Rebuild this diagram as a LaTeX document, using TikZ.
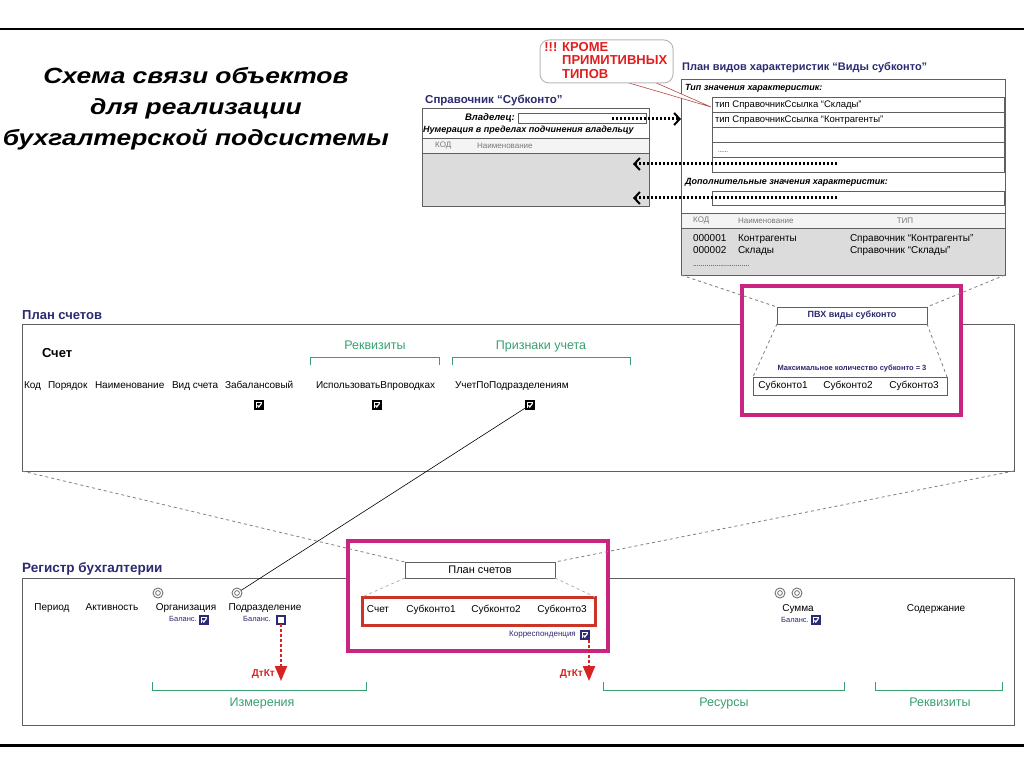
\documentclass[tikz,border=0pt]{standalone}
\usepackage{fontspec}
\setmainfont{Liberation Sans}
\usetikzlibrary{arrows.meta,calc}
\definecolor{navy}{RGB}{44,42,112}
\definecolor{grn}{RGB}{56,160,112}
\definecolor{mag}{RGB}{200,36,128}
\definecolor{rbx}{RGB}{204,52,40}
\definecolor{rar}{RGB}{214,36,36}
\definecolor{fillg}{RGB}{220,220,220}
\definecolor{hdrg}{RGB}{244,244,244}
\definecolor{frm}{RGB}{95,95,95}
\definecolor{tgray}{RGB}{120,120,120}
\definecolor{callred}{RGB}{225,30,30}
\newcommand{\myfs}[1]{\fontsize{#1}{#1}\selectfont}
\begin{document}
\begin{tikzpicture}[x=1pt,y=-1pt,
  frbox/.style={draw=frm,line width=0.8pt,inner sep=0pt,outer sep=0pt,anchor=north west},
  txt/.style={inner sep=0pt,outer sep=0pt,font=\myfs{10},text height=7.2pt,text depth=2pt},
  ttl/.style={inner sep=0pt,anchor=west,text=navy,font=\bfseries\myfs{13}},
  bi/.style={inner sep=0pt,font=\bfseries\itshape\myfs{9}},
  hdr/.style={inner sep=0pt,anchor=west,text=tgray,font=\myfs{8}},
  gdash/.style={draw=gray,line width=0.8pt,dash pattern=on 3pt off 3pt},
  dotarr/.style={line width=3pt,dash pattern=on 2pt off 2pt,-{Straight Barb[length=5.5pt,width=12pt,line width=2pt]}},
  gbr/.style={draw=grn,line width=1pt},
  glbl/.style={inner sep=0pt,text=grn,font=\myfs{12.5},text height=9pt,text depth=2.6pt},
  navsm/.style={inner sep=0pt,anchor=east,text=navy,font=\myfs{7.5}},
  chk/.style={fill=#1,minimum size=10pt,inner sep=0pt,outer sep=0pt,
    path picture={
      \draw[white,line width=0.5pt] ([shift={(-3.2,3.2)}]path picture bounding box.center) -- ([shift={(-3.2,-3.2)}]path picture bounding box.center) -- ([shift={(3.2,-3.2)}]path picture bounding box.center);
      \draw[white,line width=1.2pt] ([shift={(-1.6,0.4)}]path picture bounding box.center) -- ([shift={(-0.2,2)}]path picture bounding box.center) -- ([shift={(2.6,-1.8)}]path picture bounding box.center);}},
  unchk/.style={draw=navy,fill=white,line width=1.8pt,minimum size=8pt,inner sep=0pt,outer sep=0pt},
  dcirc/.style={circle,draw=gray!90!black,line width=0.9pt,minimum size=10pt,inner sep=0pt,outer sep=0pt,
    path picture={\draw[gray!90!black,line width=0.8pt] (path picture bounding box.center) circle (2.4pt);}},
  rarr/.style={draw=rar,line width=2.2pt,dash pattern=on 3pt off 2pt,-{Triangle[length=15pt,width=12pt]}},
  dtkt/.style={inner sep=0pt,anchor=east,text=rar,font=\bfseries\myfs{10}}
]
\useasboundingbox (0,0) rectangle (1024,767);
\fill[white] (0,0) rectangle (1024,767);

% rules
\coordinate (tl) at (0,29); \coordinate (tr) at (1024,29);
\draw[line width=1.5pt] (tl) -- (tr);
\coordinate (bl) at (0,745); \coordinate (br) at (1024,745);
\draw[line width=3pt] (bl) -- (br);

% title
\node[inner sep=0pt,align=center,font=\bfseries\itshape\fontsize{22}{31}\selectfont] (title) at (196,109)
  {\scalebox{1.2}[1]{Схема связи объектов}\\\scalebox{1.2}[1]{для реализации}\\\scalebox{1.2}[1]{бухгалтерской подсистемы}};

% ---------- Справочник "Субконто"
\node[ttl,font=\bfseries\myfs{11.5}] (spT) at (425,100) {Справочник “Субконто”};
\fill[hdrg] (422,138) rectangle (649,153);
\fill[fillg] (422,153) rectangle (649,206);
\node[frbox,minimum width=227pt,minimum height=98pt] (sprav) at (422,108) {};
\draw[frm,line width=0.8pt] (422,138) -- (649,138) (422,153) -- (649,153);
\node[bi,anchor=east,font=\bfseries\itshape\myfs{9.5}] (vlad) at (515,118) {Владелец:};
\node[frbox,minimum width=128pt,minimum height=10pt] (vladf) at (518,113) {};
\node[bi,anchor=west] (numer) at (423,130) {Нумерация в пределах подчинения владельцу};
\node[hdr] (spK) at (435,146) {КОД};
\node[hdr] (spN) at (477,146) {Наименование};

% ---------- План видов характеристик
\node[ttl,font=\bfseries\myfs{11}] (pvT) at (682,68) {План видов характеристик “Виды субконто”};
\fill[hdrg] (681,213) rectangle (1005,228);
\fill[fillg] (681,228) rectangle (1005,275);
\node[frbox,minimum width=324pt,minimum height=196pt] (pvh) at (681,79) {};
\draw[frm,line width=0.8pt] (681,213) -- (1005,213) (681,228) -- (1005,228);
\node[bi,anchor=west] (tipT) at (685,88) {Тип значения характеристик:};
\node[frbox,minimum width=292pt,minimum height=15pt] (r1) at (712,97) {};
\node[frbox,minimum width=292pt,minimum height=15pt] (r2) at (712,112) {};
\node[frbox,minimum width=292pt,minimum height=15pt] (r3) at (712,127) {};
\node[frbox,minimum width=292pt,minimum height=15pt] (r4) at (712,142) {};
\node[frbox,minimum width=292pt,minimum height=15pt] (r5) at (712,157) {};
\node[txt,anchor=west,font=\myfs{9.5}] (r1t) at ([xshift=3pt]r1.west) {тип СправочникСсылка “Склады”};
\node[txt,anchor=west,font=\myfs{9.5}] (r2t) at ([xshift=3pt]r2.west) {тип СправочникСсылка “Контрагенты”};
\node[txt,anchor=west,font=\myfs{6}] (r4t) at ([xshift=6pt]r4.west) {......};
\node[bi,anchor=west] (dopT) at (685,182) {Дополнительные значения характеристик:};
\node[frbox,minimum width=292pt,minimum height=14pt] (dopf) at (712,191) {};
\node[hdr] (pvK) at (693,221) {КОД};
\node[hdr] (pvN) at (738,221) {Наименование};
\node[hdr,anchor=center] (pvTip) at (905,221) {ТИП};
\node[txt,anchor=west] (e1a) at (693,239) {000001};
\node[txt,anchor=west] (e1b) at (738,239) {Контрагенты};
\node[txt,anchor=west] (e1c) at (850,239) {Справочник “Контрагенты”};
\node[txt,anchor=west] (e2a) at (693,251) {000002};
\node[txt,anchor=west] (e2b) at (738,251) {Склады};
\node[txt,anchor=west] (e2c) at (850,251) {Справочник “Склады”};
\node[txt,anchor=west,font=\myfs{7}] (e3) at (693,264) {.............................};

% dotted arrows
\coordinate (d1) at (612,119);
\draw[dotarr] (d1) -- (pvh.west |- d1);
\coordinate (d2) at (837,164);
\draw[dotarr] (d2) -- ([xshift=-16pt]sprav.east |- d2);
\coordinate (d3) at (837,198);
\draw[dotarr] (d3) -- ([xshift=-16pt]sprav.east |- d3);

% callout
\coordinate (ctip) at (711,107);
\filldraw[fill=white,draw=callred!55!gray,line width=0.6pt] (612,78) -- (ctip) -- (645,78) -- cycle;
\node[frbox,draw=gray!55,fill=white,rounded corners=9pt,minimum width=133pt,minimum height=43pt,line width=1pt] (bub) at (540,40) {};
\node[inner sep=0pt,anchor=north west,align=left,text=callred,font=\bfseries\fontsize{13}{13.5}\selectfont] (bubT) at (562,42) {\llap{!!! }КРОМЕ\\ПРИМИТИВНЫХ\\ТИПОВ};

% ---------- План счетов
\node[ttl] (planT) at (22,315) {План счетов};
\node[frbox,minimum width=992pt,minimum height=147pt] (plan) at (22,324) {};
\node[txt,anchor=west,font=\bfseries\myfs{13}] (schet) at (42,355) {Счет};
\node[txt,anchor=west] (kod) at (24,386) {Код};
\node[txt,anchor=west] (por) at (48,386) {Порядок};
\node[txt,anchor=west] (naim) at (95,386) {Наименование};
\node[txt,anchor=west] (vid) at (172,386) {Вид счета};
\node[txt,anchor=west] (zab) at (225,386) {Забалансовый};
\node[txt,anchor=west] (isp) at (316,386) {ИспользоватьВпроводках};
\node[txt,anchor=west] (uch) at (455,386) {УчетПоПодразделениям};
\node[chk=black] (iZab) at (259,405) {};
\node[chk=black] (iIsp) at (377,405) {};
\node[chk=black] (iUch) at (530,405) {};
\node[glbl] (rekT) at (375,346) {Реквизиты};
\draw[gbr] (310,365) -- (310,357) -- (439,357) -- (439,365);
\node[glbl] (prT) at (541,346) {Признаки учета};
\draw[gbr] (452,365) -- (452,357) -- (630,357) -- (630,365);

% magenta box with PVH
\node[frbox,draw=mag,line width=3.5pt,fill=white,minimum width=219pt,minimum height=129pt] (mag1) at (742,286) {};
\node[frbox,minimum width=150pt,minimum height=17pt,font=\bfseries\myfs{9},text=navy] (pvxk) at (777,307) {ПВХ виды субконто};
\draw[gdash] (pvh.south west) -- (pvxk.north west);
\draw[gdash] (pvh.south east) -- (pvxk.north east);
\node[inner sep=0pt,text=navy,font=\bfseries\myfs{7.5}] (maxk) at (852,369) {Максимальное количество субконто = 3};
\node[frbox,minimum width=194pt,minimum height=18pt] (subk) at (753,377) {};
\node[txt] (sk1) at (783,386) {Субконто1};
\node[txt] (sk2) at (848,386) {Субконто2};
\node[txt] (sk3) at (914,386) {Субконто3};
\draw[gdash] (pvxk.south west) -- (subk.north west);
\draw[gdash] (pvxk.south east) -- (subk.north east);

% ---------- Регистр бухгалтерии
\node[ttl,font=\bfseries\myfs{13.5}] (regT) at (22,569) {Регистр бухгалтерии};
\node[frbox,minimum width=992pt,minimum height=147pt] (reg) at (22,578) {};
\node[frbox,draw=mag,line width=3.5pt,fill=white,minimum width=260pt,minimum height=110pt] (mag2) at (348,541) {};
\node[frbox,minimum width=150pt,minimum height=16pt,font=\myfs{11}] (pls) at (405,562) {План счетов};
\node[frbox,draw=rbx,line width=3pt,minimum width=233pt,minimum height=28pt] (rbox) at (362,597) {};
\draw[gdash] (plan.south west) -- (pls.north west);
\draw[gdash] (plan.south east) -- (pls.north east);
\draw[gdash,draw=gray!60] (pls.south west) -- (rbox.north west);
\draw[gdash,draw=gray!60] (pls.south east) -- (rbox.north east);
\node[txt] (rs) at (378,610) {Счет};
\node[txt] (rs1) at (431,610) {Субконто1};
\node[txt] (rs2) at (496,610) {Субконто2};
\node[txt] (rs3) at (562,610) {Субконто3};

\node[txt] (per) at (52,608) {Период};
\node[txt] (act) at (112,608) {Активность};
\node[txt] (org) at (186,608) {Организация};
\node[txt] (podr) at (265,608) {Подразделение};
\node[dcirc] (cOrg) at (158,593) {};
\node[dcirc] (cPodr) at (237,593) {};
\node[navsm] (bOrg) at (197,619) {Баланс.};
\node[chk=navy] (iOrg) at (204,620) {};
\node[navsm] (bPodr) at (271,619) {Баланс.};
\node[unchk] (iPodr) at (281,620) {};

\node[navsm,font=\myfs{8}] (korT) at (576,635) {Корреспонденция};
\node[chk=navy] (iKor) at (585,635) {};

\coordinate (a1e) at (281,681);
\draw[rarr] (iPodr) -- (a1e);
\node[dtkt] (dk1) at (275,674) {ДтКт};
\coordinate (a2e) at (589,681);
\draw[rarr] (iKor.south -| a2e) -- (a2e);
\node[dtkt] (dk2) at (583,674) {ДтКт};

\node[dcirc] (cS1) at (780,593) {};
\node[dcirc] (cS2) at (797,593) {};
\node[txt] (summa) at (798,609) {Сумма};
\node[navsm] (bSum) at (809,620) {Баланс.};
\node[chk=navy] (iSum) at (816,620) {};
\node[txt] (sod) at (936,609) {Содержание};

\draw[gbr] (152,682) -- (152,690) -- (366,690) -- (366,682);
\node[glbl] (izm) at (262,703) {Измерения};
\draw[gbr] (603,682) -- (603,690) -- (844,690) -- (844,682);
\node[glbl] (res) at (724,703) {Ресурсы};
\draw[gbr] (875,682) -- (875,690) -- (1002,690) -- (1002,682);
\node[glbl] (rek2) at (940,703) {Реквизиты};

% link
\draw[line width=0.6pt] (iUch) -- (cPodr);
\end{tikzpicture}
\end{document}
